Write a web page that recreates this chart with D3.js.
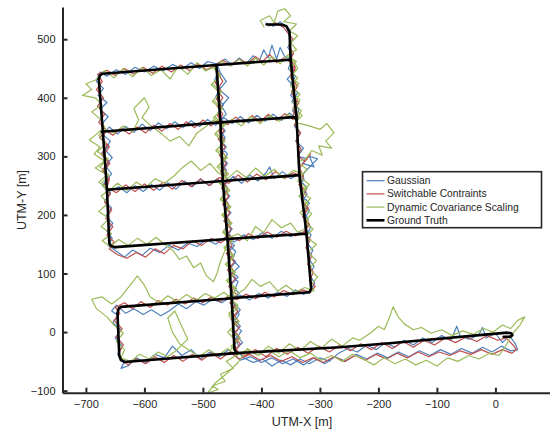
<!DOCTYPE html>
<html>
<head>
<meta charset="utf-8">
<script src="https://cdn.jsdelivr.net/npm/d3@7"></script>
<style>
  html, body { margin: 0; padding: 0; background: #fff; }
  svg { display: block; }
</style>
</head>
<body>
<div id="chart"></div>
<script>
// UTM trajectory plot: three estimated paths against the ground truth.

// --- Data (UTM metres) ---
const xTicks = [-700, -600, -500, -400, -300, -200, -100, 0];
const yTicks = [-100, 0, 100, 200, 300, 400, 500];

const seriesNames = ["Gaussian", "Switchable Contraints", "Dynamic Covariance Scaling", "Ground Truth"];

const gaussian = [
  [-393,528],[-380,522],[-368,530],[-357,521],[-354,510],[-349,498],[-355,486],[-347,474],[-352,466],
  [-344,445],[-356,432],[-343,418],[-350,404],[-339,392],[-347,378],[-336,366],[-344,352],[-334,340],[-341,326],
  [-328,314],[-338,300],[-322,296],[-330,288],[-310,282],[-318,300],[-304,296],[-327,272],[-333,258],[-322,246],[-330,232],
  [-318,220],[-328,206],[-320,192],[-326,178],[-315,166],[-322,152],[-312,140],[-319,126],[-310,112],[-318,98],
  [-309,84],[-315,72],
  [-328,64],[-342,72],[-356,61],[-372,68],[-388,58],[-404,66],[-420,55],[-436,63],[-450,56],
  [-446,72],[-440,86],[-452,98],[-438,112],[-450,124],[-444,138],[-458,150],[-452,164],[-462,176],[-455,190],
  [-463,204],[-456,218],[-466,232],[-458,246],[-468,262],[-460,276],[-466,290],[-458,304],[-470,318],[-462,332],
  [-472,346],[-466,360],[-474,374],[-465,388],[-478,402],[-470,416],[-480,430],[-474,444],[-478,458],
  [-492,462],[-506,450],[-520,460],[-536,449],[-552,457],[-568,446],[-584,454],[-600,444],[-616,452],[-632,440],
  [-648,448],[-664,437],[-676,444],
  [-682,428],[-670,416],[-679,404],[-664,392],[-676,380],[-662,368],[-672,356],[-666,344],[-676,332],[-661,318],
  [-673,304],[-660,290],[-670,276],[-663,262],[-672,250],[-658,238],[-668,224],[-656,212],[-666,198],[-654,186],
  [-664,172],[-655,160],[-662,148],
  [-648,138],[-634,128],[-620,140],[-604,131],[-590,143],[-574,136],[-558,148],[-542,140],[-526,152],[-510,146],
  [-494,158],[-478,150],[-462,162],[-446,154],[-430,166],[-414,158],[-398,170],[-382,160],[-366,172],[-350,163],
  [-334,170],[-322,164],
  [-316,180],[-326,194],[-318,208],[-330,222],[-322,236],[-334,250],[-327,262],[-337,270],
  [-350,262],[-364,274],[-378,262],[-386,282],[-392,272],[-406,258],[-420,268],[-434,254],[-448,266],[-462,252],
  [-476,262],[-490,250],[-504,261],[-518,248],[-532,258],[-546,244],[-560,255],[-574,242],[-588,252],[-602,240],
  [-616,250],[-630,238],[-644,248],[-660,240],
  [-668,256],[-656,270],[-667,284],[-655,298],[-668,312],[-658,326],[-672,338],
  [-660,350],[-646,338],[-632,351],[-618,341],[-604,355],[-590,344],[-576,357],[-562,347],[-548,359],[-534,349],
  [-520,361],[-506,351],[-492,363],[-478,353],[-464,366],[-450,356],[-436,368],[-422,357],[-408,370],[-394,360],
  [-380,372],[-366,361],[-352,374],[-340,364],
  [-336,380],[-348,394],[-338,408],[-350,422],[-342,436],[-354,450],[-348,464],
  [-360,470],[-368,486],[-374,466],[-382,490],[-388,468],[-396,482],[-404,462],[-414,472],[-426,458],[-438,468],
  [-450,456],[-462,466],[-476,458],
  [-470,442],[-460,428],[-472,414],[-456,400],[-468,386],[-460,372],[-474,358],[-462,344],[-472,330],[-460,316],
  [-470,302],[-458,288],[-468,274],[-456,260],[-468,246],[-454,232],[-466,218],[-452,204],[-464,190],[-450,176],
  [-460,162],[-446,148],[-458,134],[-444,120],[-456,106],[-440,94],[-452,80],[-438,66],[-450,52],[-436,38],
  [-448,24],[-436,10],[-446,-4],[-432,-18],[-444,-30],
  [-430,-44],[-414,-52],[-398,-46],[-382,-58],[-366,-48],[-350,-56],[-334,-46],[-318,-54],[-300,-44],[-284,-50],
  [-268,-36],[-252,-28],[-236,-34],[-220,-22],[-204,-30],[-188,-18],[-172,-26],[-156,-14],[-140,-22],[-124,-10],
  [-108,-18],[-92,-6],[-76,-14],[-66,10],[-60,-8],[-44,-12],[-28,-4],[-22,8],[-16,-10],[0,-2],
  [12,-18],[24,-6],[34,-20],[38,-30],
  [26,-32],[10,-24],[-6,-34],[-22,-26],[-40,-36],[-58,-28],[-76,-38],[-94,-30],[-112,-40],[-130,-32],
  [-148,-42],[-166,-34],[-184,-44],[-202,-36],[-220,-46],[-238,-38],[-256,-50],[-274,-42],[-292,-54],[-310,-44],
  [-328,-56],[-346,-46],[-364,-54],[-382,-44],[-400,-52],[-418,-42],[-436,-48],
  [-456,-30],[-472,-42],[-488,-34],[-504,-46],[-520,-30],[-536,-40],[-552,-24],[-566,-44],[-582,-38],[-598,-52],
  [-614,-44],[-628,-58],[-640,-62],[-634,-50],
  [-646,-38],[-638,-24],[-650,-10],[-640,4],[-654,16],[-644,28],[-656,36],[-648,46],
  [-632,32],[-618,40],[-602,30],[-588,38],[-572,28],[-558,36],[-542,48],[-528,40],[-512,52],[-498,46],
  [-484,56],[-468,50],[-452,60],
  [-446,46],[-438,30],[-448,16],[-434,2],[-444,-12],[-438,-26]
];

const switchable = [
  [-388,522],[-376,528],[-362,520],[-356,512],[-346,500],[-353,488],[-345,476],[-350,466],
  [-342,452],[-351,438],[-341,424],[-349,410],[-339,396],[-346,382],[-336,368],[-343,354],[-333,340],[-341,326],
  [-332,312],[-338,300],[-326,292],[-316,304],[-322,296],[-335,280],[-328,266],[-336,252],[-324,240],[-332,226],[-322,212],
  [-330,198],[-320,184],[-327,170],[-316,158],[-324,144],[-314,130],[-321,116],[-311,102],[-318,88],[-308,78],
  [-316,68],
  [-330,72],[-346,64],[-362,71],[-378,60],[-394,68],[-410,57],[-426,65],[-442,55],[-452,62],
  [-448,76],[-456,90],[-447,104],[-457,118],[-449,132],[-459,146],[-451,160],[-461,174],[-453,188],[-463,202],
  [-455,216],[-465,230],[-457,244],[-467,258],[-459,272],[-469,286],[-461,300],[-471,314],[-463,328],[-473,342],
  [-465,356],[-475,370],[-467,384],[-477,398],[-469,412],[-479,426],[-471,440],[-480,454],
  [-494,448],[-508,458],[-522,446],[-538,456],[-554,444],[-570,454],[-586,442],[-602,452],[-618,440],[-634,450],
  [-650,438],[-664,447],[-680,440],
  [-672,428],[-682,414],[-670,400],[-680,386],[-668,372],[-678,358],[-666,346],[-676,332],[-664,318],[-674,304],
  [-662,290],[-672,276],[-660,262],[-670,250],[-658,236],[-668,222],[-656,208],[-666,194],[-654,180],[-664,166],
  [-652,154],[-660,142],
  [-646,132],[-630,126],[-614,136],[-598,128],[-582,142],[-566,134],[-550,148],[-534,142],[-518,156],[-502,148],
  [-486,160],[-470,152],[-454,164],[-438,156],[-422,168],[-406,160],[-390,171],[-374,162],[-358,172],[-342,164],
  [-326,172],
  [-318,184],[-328,198],[-320,212],[-332,226],[-324,240],[-335,254],[-328,266],
  [-346,272],[-360,262],[-376,274],[-392,260],[-408,270],[-424,256],[-440,268],[-456,254],[-472,264],[-488,250],
  [-504,262],[-520,248],[-536,259],[-552,244],[-568,256],[-584,242],[-600,253],[-616,240],[-632,251],[-648,238],
  [-664,247],
  [-660,260],[-670,274],[-659,288],[-670,302],[-660,316],[-672,330],[-666,344],
  [-654,336],[-640,348],[-626,338],[-612,350],[-598,340],[-584,353],[-570,343],[-556,356],[-542,346],[-528,359],
  [-514,349],[-500,362],[-486,352],[-472,364],[-458,354],[-444,367],[-430,357],[-416,370],[-402,359],[-388,372],
  [-374,361],[-360,373],[-346,363],
  [-344,378],[-336,392],[-347,406],[-338,420],[-350,434],[-342,448],[-352,462],
  [-362,468],[-374,460],[-386,474],[-398,462],[-410,470],[-424,458],[-438,466],[-452,456],[-466,464],[-478,456],
  [-474,442],[-466,428],[-476,414],[-466,400],[-476,386],[-466,372],[-474,358],[-464,344],[-474,330],[-462,316],
  [-472,302],[-460,288],[-470,274],[-458,260],[-468,246],[-456,232],[-466,218],[-454,204],[-464,190],[-452,176],
  [-462,162],[-450,148],[-460,134],[-446,120],[-458,106],[-444,92],[-456,78],[-442,64],[-454,50],[-440,36],
  [-452,22],[-438,8],[-450,-6],[-436,-20],[-446,-32],
  [-428,-40],[-410,-30],[-392,-42],[-374,-28],[-356,-38],[-338,-26],[-320,-36],[-302,-24],[-284,-34],[-266,-22],
  [-248,-32],[-230,-20],[-212,-30],[-194,-18],[-176,-28],[-158,-16],[-140,-26],[-122,-14],[-104,-22],[-86,-10],
  [-68,-18],[-50,-8],[-32,-16],[-14,-6],[4,-14],[18,-10],[30,-22],[36,-30],[28,-36],
  [12,-30],[-6,-38],[-24,-30],[-42,-38],[-60,-32],[-78,-40],[-96,-34],[-114,-42],[-132,-34],[-150,-44],
  [-168,-36],[-186,-46],[-204,-38],[-222,-48],[-240,-40],[-258,-50],[-276,-42],[-294,-52],[-312,-44],[-330,-52],
  [-348,-42],[-366,-50],[-384,-40],[-402,-48],[-420,-38],[-438,-46],
  [-454,-34],[-470,-46],[-486,-36],[-502,-48],[-518,-38],[-534,-50],[-550,-40],[-566,-52],[-582,-42],[-598,-54],
  [-614,-46],[-628,-56],[-638,-48],
  [-644,-36],[-636,-22],[-648,-8],[-638,6],[-652,20],[-642,32],[-650,42],
  [-634,50],[-620,40],[-606,52],[-590,42],[-576,54],[-560,46],[-546,56],[-530,48],[-516,58],[-500,50],
  [-486,60],[-470,52],[-456,62],
  [-444,48],[-452,34],[-440,20],[-450,6],[-438,-8],[-446,-22],[-440,-34]
];

const dcs = [
  [-395,520],[-402,532],[-386,540],[-378,528],[-372,548],[-360,552],[-350,540],[-362,530],[-340,526],[-352,514],
  [-338,506],[-350,494],[-340,482],[-356,472],[-344,462],
  [-338,450],[-350,436],[-336,424],[-348,410],[-334,396],[-346,382],[-330,370],[-342,358],[-318,352],[-300,346],
  [-288,356],[-276,340],[-290,326],[-280,314],[-302,318],[-296,302],[-314,310],[-324,296],[-338,290],[-322,278],
  [-334,264],[-318,252],[-332,240],[-316,228],[-330,214],[-314,202],[-326,188],[-312,176],[-324,162],[-306,150],
  [-320,136],[-306,122],[-318,108],[-304,94],[-316,80],[-310,70],
  [-326,76],[-342,68],[-358,80],[-372,70],[-386,86],[-402,78],[-416,90],[-428,74],[-442,64],[-454,56],
  [-444,72],[-458,86],[-446,100],[-460,114],[-448,128],[-462,142],[-450,156],[-466,170],[-452,184],[-466,198],
  [-454,212],[-470,226],[-456,240],[-472,254],[-460,268],[-476,282],[-462,296],[-478,310],[-464,324],[-480,338],
  [-466,352],[-482,366],[-468,380],[-484,394],[-470,408],[-486,422],[-472,436],[-482,452],
  [-496,446],[-510,460],[-526,440],[-542,454],[-556,432],[-572,448],[-588,438],[-604,452],[-620,436],[-636,450],
  [-652,434],[-668,446],[-684,430],[-700,424],[-690,414],[-706,404],
  [-684,400],[-672,388],[-690,376],[-676,364],[-668,350],[-682,338],[-694,328],[-676,316],[-686,304],[-668,292],
  [-684,280],[-664,268],[-678,256],[-660,244],[-674,232],[-662,220],[-678,206],[-660,194],[-674,180],[-656,168],
  [-672,156],[-658,146],
  [-644,158],[-628,148],[-612,160],[-596,150],[-580,162],[-566,150],[-552,140],[-540,124],[-528,130],[-516,110],
  [-504,118],[-494,96],[-482,86],[-476,100],[-470,120],[-462,140],[-456,160],[-440,168],[-424,156],[-410,180],
  [-396,170],[-382,192],[-366,178],[-350,186],[-338,170],[-326,176],
  [-320,190],[-334,204],[-320,218],[-336,232],[-322,246],[-338,258],[-330,270],
  [-346,276],[-362,262],[-378,278],[-394,266],[-410,280],[-426,264],[-442,276],[-458,262],[-474,272],[-488,288],
  [-504,276],[-520,292],[-536,280],[-550,266],[-566,254],[-582,262],[-598,246],[-614,256],[-630,242],[-646,254],
  [-662,240],
  [-674,254],[-660,268],[-676,282],[-662,296],[-680,308],[-666,322],[-678,336],[-668,346],
  [-652,340],[-636,352],[-620,342],[-610,362],[-618,382],[-600,400],[-592,384],[-604,366],[-586,350],[-570,338],
  [-556,326],[-540,334],[-524,318],[-510,340],[-496,350],[-482,362],[-466,350],[-450,364],[-434,352],[-418,368],
  [-402,356],[-386,370],[-370,360],[-354,372],[-340,362],
  [-332,378],[-346,392],[-334,406],[-350,420],[-338,434],[-352,448],[-340,462],
  [-356,472],[-368,458],[-382,470],[-396,456],[-410,468],[-424,454],[-438,466],[-452,454],[-468,462],[-480,450],
  [-470,438],[-484,424],[-468,410],[-482,396],[-466,382],[-480,368],[-464,354],[-478,340],[-462,326],[-476,312],
  [-458,298],[-474,284],[-456,270],[-472,256],[-454,242],[-470,228],[-452,214],[-468,200],[-450,186],[-466,172],
  [-448,158],[-464,144],[-446,130],[-462,116],[-444,102],[-460,88],[-442,74],[-458,60],[-440,46],[-456,32],
  [-438,18],[-454,4],[-436,-10],[-452,-24],[-440,-38],
  [-460,-50],[-448,-62],[-470,-72],[-462,-84],[-484,-92],[-474,-98],[-492,-104],[-478,-86],[-458,-70],[-440,-52],
  [-424,-28],[-406,-40],[-388,-24],[-370,-36],[-352,-20],[-334,-32],[-316,-16],[-298,-28],[-280,-12],[-262,-24],
  [-244,-10],[-232,-14],[-214,-2],[-200,10],[-190,4],[-180,28],[-175,43],[-166,26],[-156,14],[-140,4],
  [-126,8],[-110,-2],[-92,4],[-74,-6],[-56,2],[-38,-4],[-20,6],[-4,0],[12,12],[26,6],
  [38,20],[50,26],[42,12],[30,-2],
  [16,-26],[6,-40],[-10,-36],[-28,-46],[-46,-40],[-64,-50],[-82,-44],[-100,-58],[-118,-48],[-136,-56],
  [-154,-46],[-172,-54],[-190,-44],[-208,-56],[-226,-46],[-244,-38],[-262,-50],[-280,-40],[-298,-48],[-316,-36],
  [-334,-44],[-352,-32],[-370,-42],[-388,-30],[-406,-40],[-424,-30],[-442,-40],
  [-458,-28],[-474,-40],[-490,-30],[-506,-42],[-522,-32],[-540,-20],[-552,0],[-560,24],[-548,36],[-538,14],
  [-526,-12],[-544,-30],[-560,-42],[-576,-34],[-592,-46],[-608,-38],[-624,-50],[-640,-44],
  [-634,-30],[-648,-16],[-636,-2],[-652,12],[-664,26],[-682,40],[-690,56],[-672,60],[-656,48],
  [-640,60],[-626,78],[-612,96],[-600,80],[-590,60],[-574,50],[-560,62],[-544,52],[-528,64],[-512,54],
  [-496,66],[-480,58],[-464,68],[-450,56],
  [-440,42],[-456,28],[-442,14],[-458,0],[-444,-14],[-452,-30]
];

// Ground truth, one polyline per street run
const groundTruth = [
  [[-391,525],[-366,525],[-357,522],[-352,513],[-350,465],[-340,366],[-335,268],[-323,168],[-315,74],[-318,68]],
  [[-350,465],[-477,456],[-672,441],[-676,438],[-678,432]],
  [[-678,432],[-671,342],[-664,243],[-660,152],[-657,147],[-650,145]],
  [[-673,342],[-470,358],[-344,367],[-340,362]],
  [[-664,243],[-466,258],[-335,268]],
  [[-650,145],[-458,159],[-323,168]],
  [[-318,68],[-451,58],[-460,57],[-640,43],[-644,40],[-646,32]],
  [[-646,32],[-643,-40],[-640,-48],[-634,-51]],
  [[-634,-51],[-444,-36],[-266,-26],[-181,-19],[20,-1],[27,-2],[29,-5],[26,-8],[14,-8]],
  [[-477,456],[-470,358],[-466,258],[-458,159],[-451,58],[-446,-30],[-442,-36]]
];

const seriesColors = ["#4f81bd", "#c0504d", "#9bbb59", "#000000"];

// --- Layout ---
const width = 550, height = 430;
const plot = { left: 62.5, right: 551, top: 7, bottom: 392.7 };
const axisColor = "#262626";
const fontFamily = "'Liberation Sans', Arial, Helvetica, sans-serif";

const svg = d3.select("#chart").append("svg")
  .attr("width", width)
  .attr("height", height)
  .style("font-family", fontFamily);

const x = d3.scaleLinear().domain([-740, 95]).range([plot.left, plot.right]);
const y = d3.scaleLinear().domain([-103.5, 555]).range([plot.bottom, plot.top]);

svg.append("defs").append("clipPath").attr("id", "plot-clip")
  .append("rect")
  .attr("x", plot.left).attr("y", plot.top)
  .attr("width", plot.right - plot.left).attr("height", plot.bottom - plot.top);

const line = d3.line().x(d => x(d[0])).y(d => y(d[1]));

// --- Trajectories (drawn in legend order, ground truth on top) ---
const traces = svg.append("g").attr("clip-path", "url(#plot-clip)");

[gaussian, switchable, dcs].forEach((pts, i) => {
  traces.append("path")
    .attr("d", line(pts))
    .attr("fill", "none")
    .attr("stroke", seriesColors[i])
    .attr("stroke-width", 1.2)
    .attr("stroke-linejoin", "round");
});

groundTruth.forEach(seg => {
  traces.append("path")
    .attr("d", line(seg))
    .attr("fill", "none")
    .attr("stroke", seriesColors[3])
    .attr("stroke-width", 2.6)
    .attr("stroke-linejoin", "round")
    .attr("stroke-linecap", "round");
});

// --- Axes (MATLAB style: ticks pointing inward, no box) ---
const xAxis = svg.append("g")
  .attr("transform", `translate(0,${plot.bottom})`)
  .call(d3.axisBottom(x).tickValues(xTicks).tickSize(-5).tickPadding(8).tickSizeOuter(0));

const yAxis = svg.append("g")
  .attr("transform", `translate(${plot.left},0)`)
  .call(d3.axisLeft(y).tickValues(yTicks).tickSize(-5).tickPadding(8).tickSizeOuter(0));

[xAxis, yAxis].forEach(ax => {
  ax.select(".domain").attr("stroke", axisColor).attr("stroke-width", 2);
  ax.selectAll(".tick line").attr("stroke", axisColor).attr("stroke-width", 2);
  ax.selectAll(".tick text")
    .attr("fill", axisColor)
    .style("font-size", "11px")
    .style("font-family", fontFamily);
});
yAxis.selectAll(".tick text").attr("x", -7);

svg.append("text")
  .attr("x", 302)
  .attr("y", 426)
  .attr("text-anchor", "middle")
  .attr("fill", axisColor)
  .style("font-size", "12.5px")
  .text("UTM-X [m]");

svg.append("text")
  .attr("transform", "translate(26,200) rotate(-90)")
  .attr("text-anchor", "middle")
  .attr("fill", axisColor)
  .style("font-size", "12.5px")
  .text("UTM-Y [m]");

// --- Legend ---
const legend = svg.append("g").attr("transform", "translate(362.5,171.7)");
legend.append("rect")
  .attr("width", 179)
  .attr("height", 56)
  .attr("fill", "#fff")
  .attr("stroke", axisColor)
  .attr("stroke-width", 1.6);

seriesNames.forEach((name, i) => {
  const ly = 9 + i * 13.2;
  legend.append("line")
    .attr("x1", 4).attr("x2", 22)
    .attr("y1", ly).attr("y2", ly)
    .attr("stroke", seriesColors[i])
    .attr("stroke-width", i === 3 ? 2.6 : 1.2);
  legend.append("text")
    .attr("x", 24.5)
    .attr("y", ly + 3.6)
    .attr("fill", axisColor)
    .style("font-size", "10.3px")
    .text(name);
});
</script>
</body>
</html>
